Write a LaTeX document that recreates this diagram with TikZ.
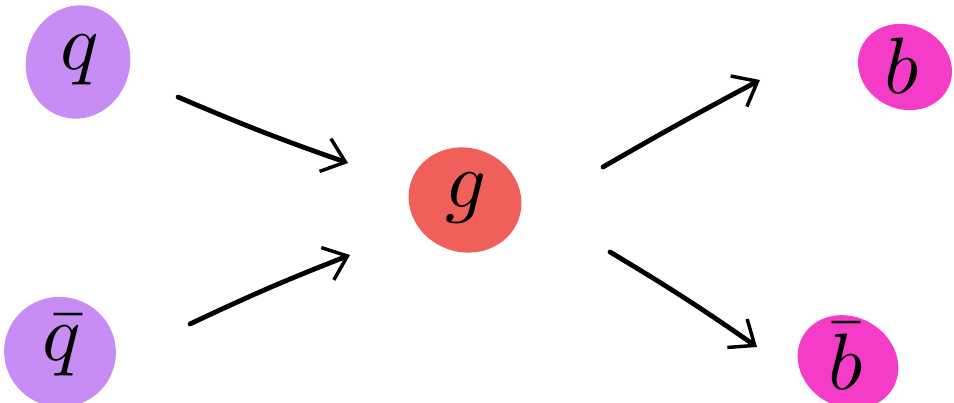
\documentclass[tikz,border=0pt]{standalone}
\usetikzlibrary{arrows.meta,shapes.geometric}
\definecolor{quarkc}{RGB}{200,140,245}
\definecolor{gluonc}{RGB}{240,95,90}
\definecolor{bc}{RGB}{245,60,200}
\tikzset{
  lbl/.style={inner sep=0pt},
  flow/.style={line width=3.6pt,line cap=round,-{Straight Barb[length=16pt,width=26pt,line width=2.6pt]}}
}
\newcommand{\biglbl}[1]{\scalebox{6}{$#1$}}
\begin{document}
\begin{tikzpicture}[x=0.75pt,y=-0.75pt]
\useasboundingbox (0,0) rectangle (954,403);
\begin{scope}
\clip (0,0) rectangle (954,403);
\fill[quarkc,rotate around={-15:(78,62)}] (78,62) ellipse [x radius=52,y radius=57];
\fill[quarkc,rotate around={-20:(60,352)}] (60,352) ellipse [x radius=56,y radius=55];
\fill[gluonc,rotate around={-20:(465,200)}] (465,200) ellipse [x radius=57,y radius=52];
\fill[bc,rotate around={-25:(905,67)}] (905,67) ellipse [x radius=48,y radius=42];
\fill[bc,rotate around={-30:(848,362)}] (848,362) ellipse [x radius=52,y radius=45];
\end{scope}
\node[lbl] (q) at (80,60) {\biglbl{q}};
\node[lbl] (qb) at (62,346) {\biglbl{\bar q}};
\node[lbl] (g) at (466,198) {\biglbl{g}};
\node[lbl] (b) at (902,66) {\biglbl{b}};
\node[lbl] (bb) at (846,356) {\biglbl{\bar b}};
\coordinate (a1s) at (178,97);
\coordinate (a1e) at (348,163);
\coordinate (a2s) at (190,324);
\coordinate (a2e) at (350,255);
\coordinate (a3s) at (603,167);
\coordinate (a3e) at (760,80);
\coordinate (a4s) at (610,252);
\coordinate (a4e) at (757,347);
\draw[flow] (a1s) to[bend right=2] (a1e);
\draw[flow] (a2s) to[bend left=2] (a2e);
\draw[flow] (a3s) to[bend left=1] (a3e);
\draw[flow] (a4s) to[bend left=2] (a4e);
\end{tikzpicture}
\end{document}
